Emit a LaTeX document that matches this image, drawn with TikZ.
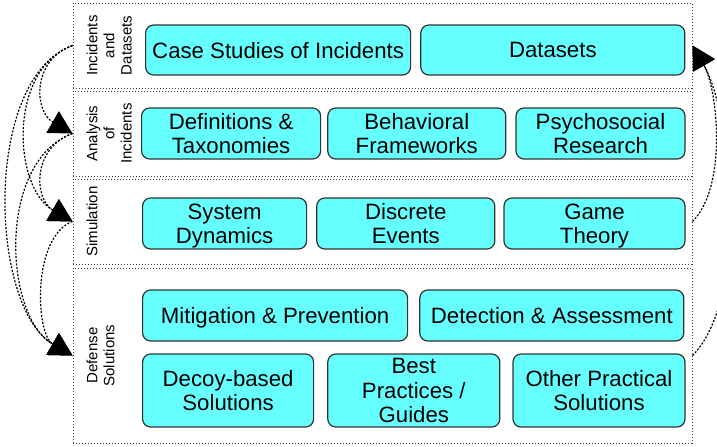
\documentclass[tikz,border=0pt]{standalone}
\usepackage{fontspec}
\setmainfont{Liberation Sans}
\usetikzlibrary{positioning, arrows.meta}
\definecolor{boxcyan}{RGB}{102,255,255}
\tikzset{
	band/.style={
		draw=black!75,
		densely dotted,
		line width=0.5pt,
		rectangle,
		inner sep=0pt,
		minimum width=309.5pt
	},
	topic/.style={
		draw=black!80,
		fill=boxcyan,
		rounded corners=4pt,
		line width=0.6pt,
		align=center,
		inner sep=0pt,
		text depth=0pt,
		font=\fontsize{11.1}{12.2}\selectfont
	},
	bandname/.style={
		rotate=90,
		anchor=north,
		align=center,
		inner sep=0pt,
		font=\fontsize{7.5}{8.6}\selectfont
	},
	flow/.style={
		dash pattern=on 1pt off 0.8pt,
		line width=0.6pt,
		-{Triangle[length=11.5pt,width=12.5pt]}
	}
}

\begin{document}
\begin{tikzpicture}[x=0.5pt, y=-0.5pt]
		\useasboundingbox (0,0) rectangle (717,446);
		\clip (0,0) rectangle (717,446);

		% bands
		\node[band, minimum height=42.5pt] (incidents) at (382.5,45.5) {};
		\node[band, minimum height=42.5pt] (analysis) at (382.5,133.5) {};
		\node[band, minimum height=42.5pt] (simulation) at (382.5,221.5) {};
		\node[band, minimum height=87.5pt] (defense) at (382.5,355.5) {};

		% band descriptions
		\node[bandname] (incidentsdsc) at (86,45.5) {Incidents\\and\\Datasets};
		\node[bandname] (analysisdsc) at (86,133.5) {Analysis\\of\\Incidents};
		\node[bandname] (simulationdsc) at (86,221.5) {Simulation};
		\node[bandname] (defensedsc) at (86,355.5) {Defense\\Solutions};

		% incidents and datasets
		\begin{scope}[nodes={minimum height=25pt}]
		\node[topic, anchor=west, minimum width=132.5pt] (cases) at (145,50) {Case Studies of Incidents};
		\node[topic, right=4.5pt of cases, minimum width=132pt] (datasets) {Datasets};
		\end{scope}

		% analysis
		\begin{scope}[nodes={minimum height=25.5pt}]
		\node[topic, anchor=west, minimum width=89.5pt] (taxonomies) at (141,133.5) {Definitions \&\\Taxonomies};
		\node[topic, right=3pt of taxonomies, minimum width=89pt] (frameworks) {Behavioral\\Frameworks};
		\node[topic, right=4.5pt of frameworks, minimum width=84.5pt] (psychosocial) {Psychosocial\\Research};
		\end{scope}

		% simulation
		\begin{scope}[nodes={minimum height=25.5pt}]
		\node[topic, anchor=west, minimum width=82pt] (dynamics) at (142,223.5) {System\\Dynamics};
		\node[topic, right=4.5pt of dynamics, minimum width=89pt] (events) {Discrete\\Events};
		\node[topic, right=4pt of events, minimum width=90.5pt] (games) {Game\\Theory};
		\end{scope}

		% defense
		\begin{scope}[nodes={minimum height=25.5pt}]
		\node[topic, anchor=west, minimum width=132.5pt] (mitigation) at (142,315.5) {Mitigation \& Prevention};
		\node[topic, right=5.5pt of mitigation, minimum width=132pt] (detection) {Detection \& Assessment};
		\end{scope}
		\begin{scope}[nodes={minimum height=36.5pt}]
		\node[topic, anchor=west, minimum width=85.5pt] (decoy) at (142,390.5) {Decoy-based\\Solutions};
		\node[topic, right=6.5pt of decoy, minimum width=86pt] (practices) {Best\\Practices /\\Guides};
		\node[topic, right=6pt of practices, minimum width=86pt] (practical) {Other Practical\\Solutions};
		\end{scope}

		% links between bands
		\begin{scope}[flow]
		\draw (incidents.west) to[out=200, in=150, distance=22pt] (analysis.west);
		\draw (incidents.west) to[out=200, in=150, distance=34.5pt] (simulation.west);
		\draw (incidents.west) to[out=200, in=150, distance=48pt] (defense.west);
		\draw (analysis.west) to[out=200, in=150, distance=22pt] (simulation.west);
		\draw (analysis.west) to[out=200, in=150, distance=40pt] (defense.west);
		\draw (simulation.west) to[out=200, in=150, distance=21.5pt] (defense.west);
		\draw (simulation.east) to[out=45, in=-60, distance=25pt] (incidents.east);
		\draw (defense.east) to[out=45, in=-60, distance=40pt] (incidents.east);
		\end{scope}
\end{tikzpicture}
\end{document}
